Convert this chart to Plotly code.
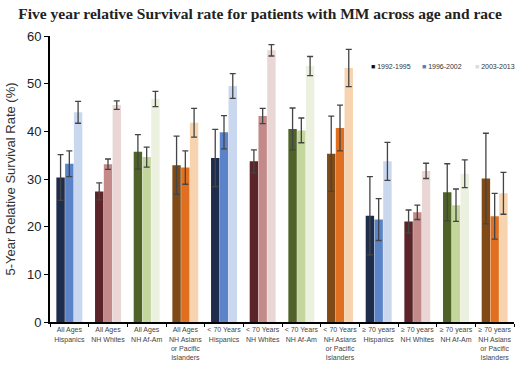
import plotly.graph_objects as go

categories = [
    "All Ages<br>Hispanics", "All Ages<br>NH Whites", "All Ages<br>NH Af-Am",
    "All Ages<br>NH Asians<br>or Pacific<br>Islanders",
    "< 70 Years<br>Hispanics", "< 70 Years<br>NH Whites", "< 70 Years<br>NH Af-Am",
    "< 70 Years<br>NH Asians<br>or Pacific<br>Islanders",
    "≥ 70 years<br>Hispanics", "≥ 70 years<br>NH Whites", "≥ 70 years<br>NH Af-Am",
    "≥ 70 years<br>NH Asians<br>or Pacific<br>Islanders",
]
periods = ["1992-1995", "1996-2002", "2003-2013"]

v_1992 = [30.3, 27.4, 35.7, 32.9, 34.4, 33.7, 40.5, 35.3, 22.3, 21.1, 27.2, 30.1]
v_1996 = [33.2, 33.1, 34.6, 32.4, 39.8, 43.2, 40.2, 40.7, 21.5, 23.0, 24.5, 22.2]
v_2003 = [44.0, 45.5, 46.8, 41.8, 49.5, 57.0, 53.7, 53.3, 33.7, 31.7, 31.1, 27.0]

err_1992 = [4.8, 1.8, 3.6, 6.1, 6.0, 2.4, 4.4, 7.9, 8.2, 2.4, 6.0, 9.5]
err_1996 = [2.7, 1.1, 2.1, 3.5, 3.5, 1.6, 2.6, 4.8, 4.4, 1.5, 3.4, 4.8]
err_2003 = [2.3, 0.9, 1.6, 3.0, 2.6, 1.2, 2.0, 3.9, 4.0, 1.6, 2.9, 4.4]

race_dark = ["#1f2d4d", "#5a2428", "#4f6228", "#7f4a16"]
race_mid = ["#5b84c8", "#c48a8a", "#c3d69b", "#e07020"]
race_light = ["#c9d7ef", "#ebd6d6", "#ebf1de", "#f7d3b0"]
legend_colors = ["#111111", "#4f81bd", "#dcdcdc"]
legend_x = [0.688, 0.797, 0.912]

def cyc(c):
    return [c[i % 4] for i in range(len(categories))]

fig = go.Figure()
for vals, errs, cols in [(v_1992, err_1992, race_dark), (v_1996, err_1996, race_mid), (v_2003, err_2003, race_light)]:
    fig.add_trace(go.Bar(
        x=categories, y=vals, marker=dict(color=cyc(cols), line=dict(width=0)),
        error_y=dict(type="data", array=errs, color="#444444", thickness=1.3, width=3),
        showlegend=False,
    ))

for name, col, lx in zip(periods, legend_colors, legend_x):
    fig.add_annotation(xref="paper", yref="paper", x=lx, y=0.893, xanchor="left", yanchor="middle",
                       showarrow=False,
                       text=f"<span style='color:{col}'>■</span> {name}",
                       font=dict(family="Liberation Sans Narrow, Liberation Sans", size=7, color="#333333"))

fig.update_layout(
    width=520, height=366,
    margin=dict(l=50, r=6, t=36, b=44),
    plot_bgcolor="white", paper_bgcolor="white",
    barmode="group", bargap=0.32, bargroupgap=0.04,
    showlegend=False,
    title=dict(text="<b>Five year relative Survival rate for patients with MM across age and race</b>",
               x=0.5, xanchor="center", y=0.963, yanchor="middle",
               font=dict(family="Liberation Serif", size=15.5, color="#222222")),
    font=dict(family="Liberation Sans"),
)
fig.update_yaxes(range=[0, 60], dtick=10, showline=True, linecolor="black", linewidth=2,
                 ticks="outside", ticklen=4, tickcolor="black", showgrid=False, zeroline=False,
                 automargin=False,
                 tickfont=dict(size=13, color="#222222"),
                 title=dict(text="5-Year Relative Survival Rate (%)", font=dict(size=13, color="#333333"), standoff=8))
fig.update_xaxes(showline=True, linecolor="black", linewidth=2, ticks="outside", ticklen=3,
                 tickson="boundaries", tickcolor="black", tickangle=0, automargin=False,
                 tickfont=dict(family="Liberation Sans Narrow, Liberation Sans", size=7, color="#444444"))

fig.write_html("out.html", post_script="document.body.style.margin='0';",
               config={"displayModeBar": False})
